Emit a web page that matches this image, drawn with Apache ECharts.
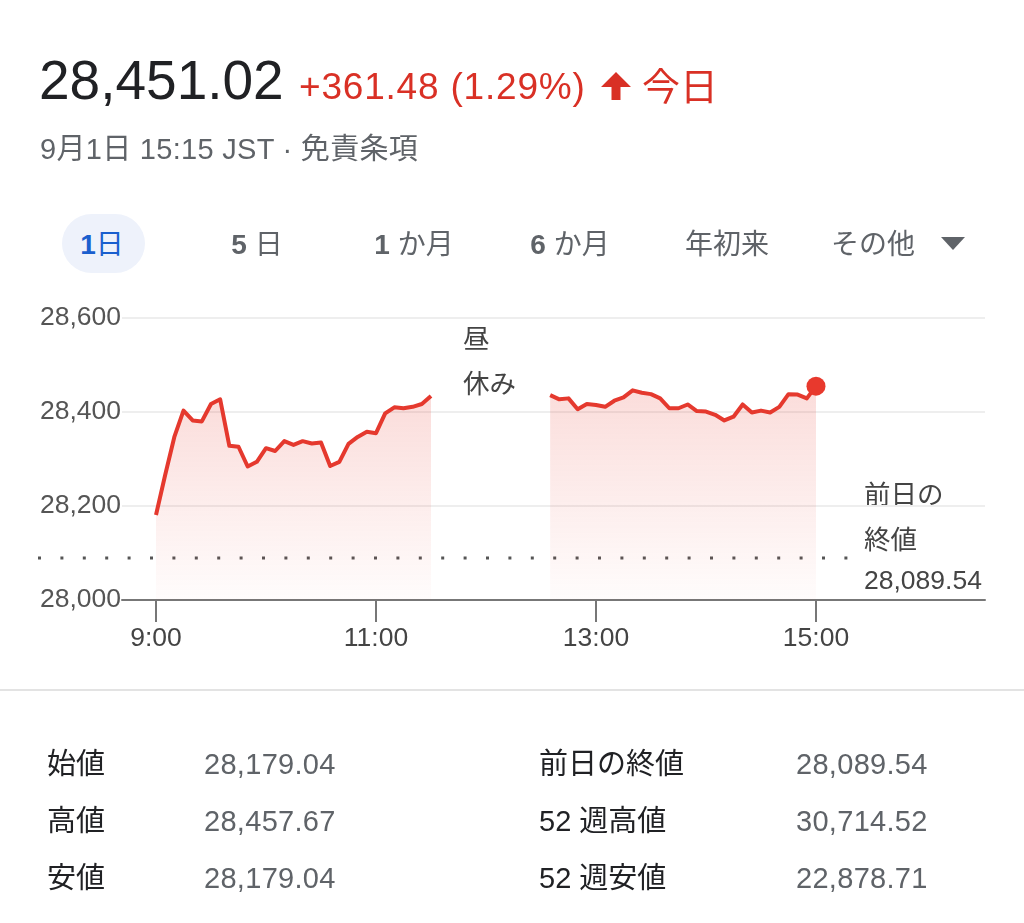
<!DOCTYPE html>
<html><head><meta charset="utf-8">
<script src="https://cdn.jsdelivr.net/npm/echarts@6/dist/echarts.min.js"></script>
<style>
html,body{margin:0;padding:0;background:#fff;width:1024px;height:923px;overflow:hidden;font-family:"Liberation Sans","Noto Sans CJK JP",sans-serif;}
#chart{position:absolute;left:0;top:0;width:1024px;height:923px;}
.t{position:absolute;white-space:nowrap;}
.pill{position:absolute;left:62px;top:214px;width:83px;height:59px;border-radius:30px;background:#eef2fb;}
.sep{position:absolute;left:0;top:689px;width:1024px;height:2px;background:#e3e3e3;}
</style></head><body>
<div id="chart"></div>
<div id="overlay"></div>
<script>
// ---------- data ----------
const priceNow = '28,451.02';
const changeText = '+361.48 (1.29%)';
const dateText = '9月1日 15:15 JST · 免責条項';
const tabs = ['1日', '5 日', '1 か月', '6 か月', '年初来', 'その他'];

const morningTimes = ['9:00','9:05','9:10','9:15','9:20','9:25','9:30','9:35','9:40','9:45','9:50','9:55',
  '10:00','10:05','10:10','10:15','10:20','10:25','10:30','10:35','10:40','10:45','10:50','10:55',
  '11:00','11:05','11:10','11:15','11:20','11:25','11:30'];
const morningValues = [28181,28266,28347,28403,28382,28380,28417,28427,28328,28326,28284,28294,
  28323,28317,28338,28330,28338,28333,28335,28285,28294,28332,28347,28358,
  28355,28397,28410,28408,28411,28417,28434];

const afternoonTimes = ['12:35','12:40','12:45','12:50','12:55','13:00','13:05','13:10','13:15','13:20','13:25','13:30',
  '13:35','13:40','13:45','13:50','13:55','14:00','14:05','14:10','14:15','14:20','14:25','14:30',
  '14:35','14:40','14:45','14:50','14:55','15:00'];
const afternoonValues = [28436,28427,28429,28406,28417,28415,28411,28424,28431,28446,28441,28438,
  28429,28408,28408,28416,28402,28401,28394,28382,28390,28416,28399,28403,
  28399,28411,28438,28437,28429,28455];

const prevClose = 28089.54;
const xTickLabels = ['9:00','11:00','13:00','15:00'];
const yTickLabels = [28000, 28200, 28400, 28600];

const statLeftLabels = ['始値','高値','安値'];
const statLeftValues = ['28,179.04','28,457.67','28,179.04'];
const statRightLabels = ['前日の終値','52 週高値','52 週安値'];
const statRightValues = ['28,089.54','30,714.52','22,878.71'];

// ---------- helpers ----------
const FONT = '"Liberation Sans","Noto Sans CJK JP",sans-serif';
const toMin = s => { const [h, m] = s.split(':').map(Number); return h * 60 + m; };
const fmtTime = v => Math.floor(v / 60) + ':' + String(Math.round(v % 60)).padStart(2, '0');
const fmtNum = v => v.toLocaleString('en-US', {maximumFractionDigits: 2});

// ---------- HTML text ----------
const ov = document.getElementById('overlay');
function addText(txt, left, top, size, color, extra) {
  const d = document.createElement('div');
  d.className = 't';
  d.textContent = txt;
  d.style.left = left + 'px'; d.style.top = top + 'px';
  d.style.fontSize = size + 'px'; d.style.lineHeight = size + 'px';
  d.style.color = color;
  if (extra) Object.assign(d.style, extra);
  ov.appendChild(d);
  return d;
}
addText(priceNow, 39, 53, 55, '#202124');
addText(changeText, 299, 68, 37, '#d93025', {letterSpacing: '0.8px'});
ov.insertAdjacentHTML('beforeend',
  '<svg style="position:absolute;left:600px;top:72px" width="32" height="30" viewBox="0 0 32 30">' +
  '<polygon points="16,0 31,15 20.5,15 20.5,28 11.5,28 11.5,15 1,15" fill="#d93025"/></svg>');
addText('今日', 642, 68, 38, '#d93025');
addText(dateText, 40, 135, 29, '#5f6368', {letterSpacing: '0.3px'});

ov.insertAdjacentHTML('beforeend', '<div class="pill"></div>');
const tabCenters = [102, 257, 414, 570, 727, 873];
tabs.forEach((t, i) => {
  const d = addText('', 0, 231, 28, i === 0 ? '#1a5fce' : '#5f6368');
  d.innerHTML = t.replace(/(\d+)/, '<b>$1</b>');
  d.style.left = (tabCenters[i]) + 'px';
  d.style.transform = 'translateX(-50%)';
});
ov.insertAdjacentHTML('beforeend',
  '<svg style="position:absolute;left:941px;top:237px" width="24" height="13" viewBox="0 0 24 13">' +
  '<polygon points="0,0 24,0 12,13" fill="#5f6368"/></svg>');
ov.insertAdjacentHTML('beforeend', '<div class="sep"></div>');

const rowCenters = [763, 820, 877];
statLeftLabels.forEach((l, i) => {
  addText(l, 47, rowCenters[i] - 13, 29, '#202124');
  addText(statLeftValues[i], 204, rowCenters[i] - 13, 29, '#5f6368', {letterSpacing: '0.3px'});
  addText(statRightLabels[i], 539, rowCenters[i] - 13, 29, '#202124');
  addText(statRightValues[i], 796, rowCenters[i] - 13, 29, '#5f6368', {letterSpacing: '0.3px'});
});

// ---------- chart ----------
const chart = echarts.init(document.getElementById('chart'), null, {renderer: 'canvas'});
const pxPerMin = 110 / 60;
const firstTick = toMin(xTickLabels[0]);
const xMin = firstTick - (156 - 122) / pxPerMin;
const xMax = firstTick + (985 - 156) / pxPerMin;
const tickMinutes = xTickLabels.map(toMin);

const mData = morningTimes.map((t, i) => [toMin(t), morningValues[i]]);
const aData = afternoonTimes.map((t, i) => [toMin(t), afternoonValues[i]]);
const lastPoint = aData[aData.length - 1];

const areaGrad = new echarts.graphic.LinearGradient(0, 0, 0, 1, [
  {offset: 0, color: 'rgba(231,57,45,0.25)'},
  {offset: 1, color: 'rgba(231,57,45,0.02)'}
]);
const lineSeries = (data) => ({
  type: 'line', xAxisIndex: 0, yAxisIndex: 0, data,
  symbol: 'none', silent: true,
  lineStyle: {color: '#e5392e', width: 4, join: 'round'},
  areaStyle: {color: areaGrad},
  z: 3
});

chart.setOption({
  animation: false,
  grid: [
    {left: 122, right: 39, top: 318, height: 282},
    {left: 38, right: 176, top: 318, height: 282}
  ],
  xAxis: [
    {type: 'value', gridIndex: 0, min: xMin, max: xMax,
      splitLine: {show: false},
      axisLine: {lineStyle: {color: '#777', width: 2}},
      axisTick: {customValues: tickMinutes, length: 22, lineStyle: {color: '#777', width: 2}},
      axisLabel: {customValues: tickMinutes, formatter: v => fmtTime(v), color: '#444',
        fontSize: 26.5, fontFamily: FONT, margin: 25}
    },
    {type: 'value', gridIndex: 1, min: 0, max: 1, show: false}
  ],
  yAxis: [
    {type: 'value', gridIndex: 0, min: yTickLabels[0], max: yTickLabels[yTickLabels.length - 1],
      interval: yTickLabels[1] - yTickLabels[0],
      axisLine: {show: false}, axisTick: {show: false},
      splitLine: {lineStyle: {color: '#eeeeee', width: 2}},
      axisLabel: {formatter: v => fmtNum(v), color: '#555', fontSize: 26.5, fontFamily: FONT, margin: 1}
    },
    {type: 'value', gridIndex: 1, min: yTickLabels[0], max: yTickLabels[yTickLabels.length - 1], show: false}
  ],
  series: [
    {type: 'line', xAxisIndex: 1, yAxisIndex: 1, data: [[0, prevClose], [1, prevClose]],
      symbol: 'none', silent: true,
      lineStyle: {color: '#555', width: 3, type: [3, 19.4], cap: 'butt'}, z: 2},
    lineSeries(mData),
    lineSeries(aData),
    {type: 'scatter', xAxisIndex: 0, yAxisIndex: 0, data: [lastPoint], symbolSize: 19,
      itemStyle: {color: '#e8392d', opacity: 1}, silent: true, z: 5}
  ],
  graphic: [
    {type: 'text', left: 463, top: 327, style: {text: '昼', font: '26.5px ' + FONT, fill: '#444'}},
    {type: 'text', left: 463, top: 372, style: {text: '休み', font: '26.5px ' + FONT, fill: '#444'}},
    {type: 'text', left: 864, top: 483, style: {text: '前日の', font: '26.5px ' + FONT, fill: '#444'}},
    {type: 'text', left: 864, top: 528, style: {text: '終値', font: '26.5px ' + FONT, fill: '#444'}},
    {type: 'text', left: 864, top: 568, style: {text: fmtNum(prevClose), font: '26.5px ' + FONT, fill: '#444'}}
  ]
});
</script>
</body></html>
